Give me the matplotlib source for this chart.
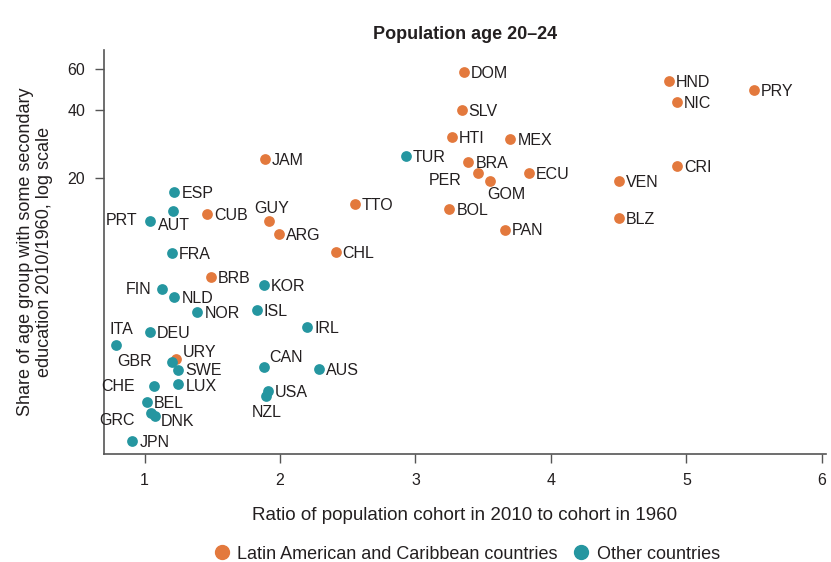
import matplotlib
matplotlib.use("Agg")
import matplotlib.pyplot as plt
from matplotlib.lines import Line2D

plt.rcParams['font.family'] = ['Liberation Sans', 'DejaVu Sans']

# Latin American and Caribbean countries
lac_codes = ["DOM", "SLV", "HTI", "MEX", "BRA", "PER", "GOM", "ECU", "BOL", "PAN",
             "HND", "NIC", "PRY", "CRI", "VEN", "BLZ", "JAM", "CUB", "GUY", "ARG",
             "TTO", "CHL", "BRB", "URY"]
lac_x = [3.36, 3.34, 3.27, 3.70, 3.39, 3.46, 3.55, 3.84, 3.25, 3.66,
         4.87, 4.93, 5.50, 4.93, 4.50, 4.50, 1.89, 1.46, 1.92, 1.99,
         2.55, 2.41, 1.49, 1.23]
lac_y = [58.5, 39.8, 30.2, 29.7, 23.6, 21.0, 19.5, 21.0, 14.6, 11.9,
         53.3, 43.2, 48.8, 22.6, 19.5, 13.4, 24.2, 13.9, 13.0, 11.4,
         15.4, 9.47, 7.38, 3.21]

# Other countries
oth_codes = ["TUR", "ESP", "AUT", "PRT", "FRA", "KOR", "FIN", "NLD", "NOR", "ISL",
             "IRL", "DEU", "ITA", "GBR", "CAN", "AUS", "SWE", "CHE", "LUX", "USA",
             "NZL", "BEL", "GRC", "DNK", "JPN"]
oth_x = [2.93, 1.22, 1.21, 1.04, 1.20, 1.88, 1.13, 1.22, 1.39, 1.83,
         2.20, 1.04, 0.79, 1.20, 1.88, 2.29, 1.25, 1.07, 1.25, 1.91,
         1.90, 1.02, 1.05, 1.08, 0.91]
oth_y = [25.0, 17.4, 14.4, 13.0, 9.4, 6.8, 6.52, 6.03, 5.17, 5.27,
         4.46, 4.23, 3.71, 3.13, 2.97, 2.91, 2.87, 2.44, 2.51, 2.33,
         2.22, 2.08, 1.87, 1.80, 1.40]

y_ticks = [20, 40, 60]
x_ticks = [1, 2, 3, 4, 5, 6]

# label placement: (dx, dy) in points, horizontal alignment
label_pos = {
    "PRT": (-9, 0, "right"), "AUT": (-11, -11, "left"), "GUY": (2, 9, "center"),
    "FIN": (-8, 0, "right"), "ITA": (4, 11, "center"), "URY": (5, 5, "left"),
    "GBR": (-14, 0, "right"), "CAN": (4, 7, "left"), "CHE": (-14, 0, "right"),
    "NZL": (0, -12, "center"), "GRC": (-12, -6, "right"), "DNK": (4, -4, "left"),
    "PER": (-12, -5, "right"), "GOM": (12, -10, "center"),
    "SWE": (5, 0, "left"), "LUX": (5, -2, "left"),
}

orange = "#E3793D"
teal = "#2596A0"
dark = "#231F20"

fig = plt.figure(figsize=(8.31, 5.62), dpi=100)
ax = fig.add_axes([0.125, 0.192, 0.869, 0.719])

ax.scatter(lac_x, lac_y, s=60, color=orange, linewidths=0, zorder=3)
ax.scatter(oth_x, oth_y, s=60, color=teal, linewidths=0, zorder=3)

for codes, xs, ys in [(lac_codes, lac_x, lac_y), (oth_codes, oth_x, oth_y)]:
    for c, x, y in zip(codes, xs, ys):
        dx, dy, ha = label_pos.get(c, (5, -1, "left"))
        ax.annotate(c, (x, y), xytext=(dx, dy), textcoords="offset points",
                    ha=ha, va="center", fontsize=11.5, color=dark, zorder=4)

ax.set_yscale("log")
ax.set_xlim(0.7, 6.03)
ax.set_ylim(1.23, 73)
ax.set_yticks(y_ticks)
ax.set_yticklabels([str(t) for t in y_ticks])
ax.yaxis.set_minor_locator(matplotlib.ticker.NullLocator())
ax.set_xticks(x_ticks)

ax.spines['top'].set_visible(False)
ax.spines['right'].set_visible(False)
for s in ['left', 'bottom']:
    ax.spines[s].set_color("#555555")
    ax.spines[s].set_linewidth(1.2)
ax.tick_params(direction="out", length=6.5, width=1.0, color="#555555",
               labelsize=11.5, labelcolor=dark, pad=7)

ax.set_xlabel("Ratio of population cohort in 2010 to cohort in 1960",
              fontsize=13.5, color=dark, labelpad=14)
ax.set_ylabel("Share of age group with some secondary\neducation 2010/1960, log scale",
              fontsize=13, color=dark, labelpad=10)
ax.set_title("Population age 20\u201324", fontsize=13, fontweight="bold",
             color=dark, pad=8)

handles = [Line2D([], [], marker="o", linestyle="", markersize=10, color=orange),
           Line2D([], [], marker="o", linestyle="", markersize=10, color=teal)]
fig.legend(handles, ["Latin American and Caribbean countries", "Other countries"],
           loc="lower center", bbox_to_anchor=(0.56, -0.03), ncol=2, frameon=False,
           fontsize=13, handlelength=1.2, handletextpad=0.25, columnspacing=0.7,
           labelcolor=dark)

fig.savefig("out.png", dpi=100)
